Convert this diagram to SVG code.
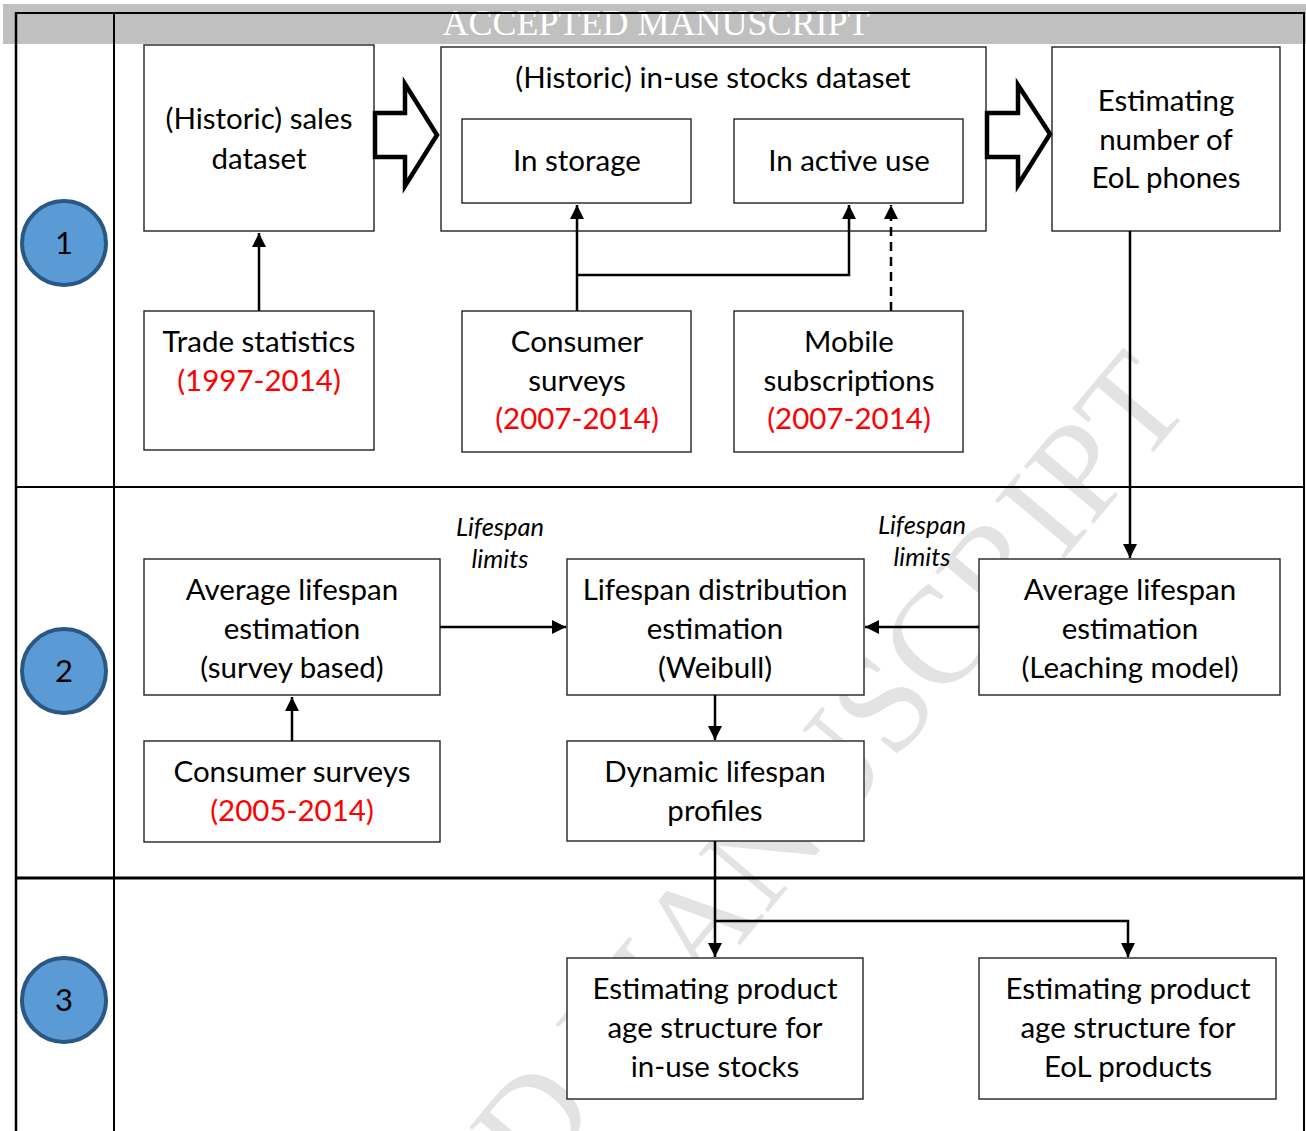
<svg xmlns="http://www.w3.org/2000/svg" width="1306" height="1131" viewBox="0 0 1306 1131">
<defs>
<style>
.bx{fill:#fff;stroke:#222;stroke-width:1.4}
.t{font-family:Lato,"Open Sans",sans-serif;font-size:29.5px;fill:#000;text-anchor:middle}
.r{fill:#ff0000}
.it{font-family:Lato,"Open Sans",sans-serif;font-size:25.5px;font-style:italic;fill:#000;text-anchor:middle}
.cn{fill:none;stroke:#000;stroke-width:2.5}
.circ{fill:#5b9bd5;stroke:#2a5783;stroke-width:4}
.num{font-family:Lato,"Liberation Sans",sans-serif;font-size:31px;fill:#000;text-anchor:middle}
.blk{fill:#fff;stroke:#000;stroke-width:4.5;stroke-linejoin:miter}
</style>
<marker id="ah" viewBox="0 0 10 10" refX="10" refY="5" markerWidth="5.6" markerHeight="5.6" markerUnits="strokeWidth" orient="auto">
<path d="M0,0 L10,5 L0,10 Z" fill="#000"/>
</marker>
</defs>
<rect width="1306" height="1131" fill="#fff"/>

<!-- watermark -->
<text x="1194" y="404" transform="rotate(-50 1194 404)" font-family="'Liberation Serif',serif" font-size="138" fill="#e3e3e3" text-anchor="end">ACCEPTED MANUSCRIPT</text>

<!-- banner -->
<rect x="3" y="4" width="1303" height="40" fill="#c0c0c0"/>
<text x="656" y="35" font-family="'Liberation Serif',serif" font-size="36" fill="#fff" text-anchor="middle">ACCEPTED MANUSCRIPT</text>

<!-- frame -->
<g id="frame" fill="none" stroke="#000">
<line x1="16" y1="13" x2="1304" y2="13" stroke-width="2"/>
<line x1="16" y1="12" x2="16" y2="1131" stroke-width="2.5"/>
<line x1="1304" y1="12" x2="1304" y2="1131" stroke-width="2"/>
<line x1="114" y1="13" x2="114" y2="1131" stroke-width="2"/>
<line x1="16" y1="487" x2="1304" y2="487" stroke-width="1.8"/>
<line x1="16" y1="878" x2="1304" y2="878" stroke-width="2.8"/>
</g>

<g id="step1"><circle class="circ" cx="64" cy="243" r="42"/><text class="num" x="64" y="254">1</text></g>
<g id="step2"><circle class="circ" cx="64" cy="671" r="42"/><text class="num" x="64" y="682">2</text></g>
<g id="step3"><circle class="circ" cx="64" cy="1000" r="42"/><text class="num" x="64" y="1011">3</text></g>

<g id="sales"><rect class="bx" x="144" y="45" width="230" height="186"/>
<text class="t" x="259" y="129">(Historic) sales</text><text class="t" x="259" y="169">dataset</text></g>

<g id="stocks"><rect class="bx" x="441" y="47" width="545" height="184"/>
<text class="t" x="713" y="88">(Historic) in-use stocks dataset</text></g>
<g id="storage"><rect class="bx" x="462" y="119" width="229" height="84"/>
<text class="t" x="577" y="171">In storage</text></g>
<g id="active"><rect class="bx" x="734" y="119" width="229" height="84"/>
<text class="t" x="849" y="171">In active use</text></g>

<g id="eol"><rect class="bx" x="1052" y="47" width="228" height="184"/>
<text class="t" x="1166" y="111">Estimating</text><text class="t" x="1166" y="150">number of</text><text class="t" x="1166" y="188">EoL phones</text></g>

<g id="trade"><rect class="bx" x="144" y="311" width="230" height="139"/>
<text class="t" x="259" y="352">Trade statistics</text><text class="t r" x="259" y="391">(1997-2014)</text></g>

<g id="consumer1"><rect class="bx" x="462" y="311" width="229" height="141"/>
<text class="t" x="577" y="352">Consumer</text><text class="t" x="577" y="391">surveys</text><text class="t r" x="577" y="429">(2007-2014)</text></g>

<g id="mobile"><rect class="bx" x="734" y="311" width="229" height="141"/>
<text class="t" x="849" y="352">Mobile</text><text class="t" x="849" y="391">subscriptions</text><text class="t r" x="849" y="429">(2007-2014)</text></g>

<g id="avgSurvey"><rect class="bx" x="144" y="559" width="296" height="136"/>
<text class="t" x="292" y="600">Average lifespan</text><text class="t" x="292" y="639">estimation</text><text class="t" x="292" y="678">(survey based)</text></g>

<g id="dist"><rect class="bx" x="567" y="559" width="297" height="136"/>
<text class="t" x="715" y="600">Lifespan distribution</text><text class="t" x="715" y="639">estimation</text><text class="t" x="715" y="678">(Weibull)</text></g>

<g id="avgLeach"><rect class="bx" x="979" y="559" width="301" height="136"/>
<text class="t" x="1130" y="600">Average lifespan</text><text class="t" x="1130" y="639">estimation</text><text class="t" x="1130" y="678">(Leaching model)</text></g>

<g id="consumer2"><rect class="bx" x="144" y="741" width="296" height="101"/>
<text class="t" x="292" y="782">Consumer surveys</text><text class="t r" x="292" y="821">(2005-2014)</text></g>

<g id="dynamic"><rect class="bx" x="567" y="741" width="297" height="100"/>
<text class="t" x="715" y="782">Dynamic lifespan</text><text class="t" x="715" y="821">profiles</text></g>

<g id="ageInUse"><rect class="bx" x="567" y="958" width="296" height="141"/>
<text class="t" x="715" y="999">Estimating product</text><text class="t" x="715" y="1038">age structure for</text><text class="t" x="715" y="1077">in-use stocks</text></g>

<g id="ageEoL"><rect class="bx" x="979" y="958" width="297" height="141"/>
<text class="t" x="1128" y="999">Estimating product</text><text class="t" x="1128" y="1038">age structure for</text><text class="t" x="1128" y="1077">EoL products</text></g>

<!-- connectors -->
<g id="connectors">
<path class="blk" d="M375,113 H405 V84 L437,135 L405,186 V157 H375 Z"/>
<path class="blk" d="M987,113 H1018 V85 L1050,134 L1018,185 V157 H987 Z"/>
<line class="cn" x1="259" y1="311" x2="259" y2="233" marker-end="url(#ah)"/>
<line class="cn" x1="577" y1="311" x2="577" y2="205" marker-end="url(#ah)"/>
<polyline class="cn" points="577,275 849,275 849,205" marker-end="url(#ah)"/>
<line class="cn" x1="891" y1="311" x2="891" y2="205" stroke-dasharray="9,6" marker-end="url(#ah)"/>
<line class="cn" x1="1130" y1="231" x2="1130" y2="558" marker-end="url(#ah)"/>
<line class="cn" x1="440" y1="627" x2="566" y2="627" marker-end="url(#ah)"/>
<line class="cn" x1="979" y1="627" x2="865" y2="627" marker-end="url(#ah)"/>
<line class="cn" x1="715" y1="695" x2="715" y2="740" marker-end="url(#ah)"/>
<line class="cn" x1="292" y1="741" x2="292" y2="697" marker-end="url(#ah)"/>
<line class="cn" x1="715" y1="841" x2="715" y2="957" marker-end="url(#ah)"/>
<polyline class="cn" points="715,921 1128,921 1128,957" marker-end="url(#ah)"/>
<text class="it" x="500" y="536">Lifespan</text>
<text class="it" x="500" y="568">limits</text>
<text class="it" x="922" y="534">Lifespan</text>
<text class="it" x="922" y="566">limits</text>
</g>
</svg>
